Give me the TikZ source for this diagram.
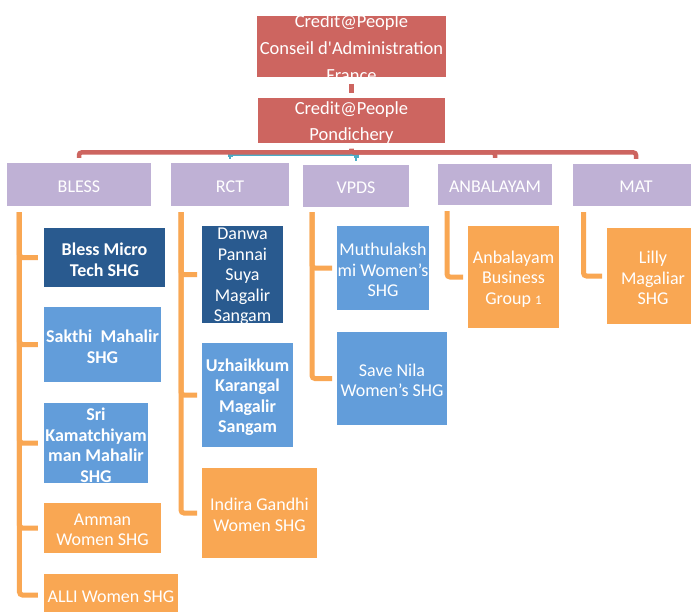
\documentclass[tikz,border=0pt]{standalone}
\usepackage{fontspec}
\setmainfont{Carlito}
\definecolor{cpred}{RGB}{205,101,96}
\definecolor{cppurple}{RGB}{191,177,213}
\definecolor{cpdblue}{RGB}{41,90,143}
\definecolor{cplblue}{RGB}{98,157,218}
\definecolor{cporange}{RGB}{249,167,83}
\definecolor{cpcyan}{RGB}{75,172,198}
\tikzset{
  tbox/.style 2 args={rectangle, inner sep=0pt, outer sep=0pt, draw=none,
    path picture={\node[text=white, align=center, inner sep=0pt, fill=none, draw=none, font=#1, yshift=-2bp]
      at (path picture bounding box.center) {#2};}},
  redconn/.style={draw=cpred, line width=4.5bp, rounded corners=2.5bp},
  cyanconn/.style={draw=cpcyan, line width=1.5bp},
  cyandrop/.style={draw=cpcyan, line width=5bp},
  orconn/.style={draw=cporange, line width=5bp, rounded corners=3bp},
}
\newcommand\fsA{\fontsize{18.5bp}{27bp}\selectfont}
\newcommand\fsB{\fontsize{18.5bp}{26bp}\selectfont}
\newcommand\fsC{\fontsize{18bp}{20.5bp}\selectfont}
\newcommand\fsD{\fontsize{18bp}{20.5bp}\selectfont\bfseries}
\begin{document}
\begin{tikzpicture}[x=1bp,y=-1bp]
\clip (0,0) rectangle (691,612);
\fill[white] (0,0) rectangle (691,612);
% level 0 and 1
\node[tbox={\fsA}{Credit@People\\Conseil d\textquotesingle Administration\\France}, fill=cpred, minimum width=189bp, minimum height=61bp] (top) at (351.5,46.5) {};
\node[tbox={\fsB}{Credit@People\\Pondichery}, fill=cpred, minimum width=187bp, minimum height=45bp] (pond) at (351.5,120.5) {};
% level 2
\node[tbox={\fsC}{BLESS}, fill=cppurple, minimum width=144bp, minimum height=43bp] (bless) at (79,184.5) {};
\node[tbox={\fsC}{RCT}, fill=cppurple, minimum width=118bp, minimum height=43bp] (rct) at (230,184.5) {};
\node[tbox={\fsC}{VPDS}, fill=cppurple, minimum width=106bp, minimum height=42bp] (vpds) at (356,186) {};
\node[tbox={\fsC}{ANBALAYAM}, fill=cppurple, minimum width=114bp, minimum height=41bp] (anb) at (495,184.5) {};
\node[tbox={\fsC}{MAT}, fill=cppurple, minimum width=126bp, minimum height=42bp] (mat) at (636,185) {};
% BLESS children
\node[tbox={\fsD}{Bless Micro\\Tech SHG}, fill=cpdblue, minimum width=121bp, minimum height=59bp] (bm) at (104.5,257.5) {};
\node[tbox={\fsD}{Sakthi~~Mahalir\\SHG}, fill=cplblue, minimum width=117bp, minimum height=75bp] (sak) at (102.5,344.5) {};
\node[tbox={\fsD}{Sri\\Kamatchiyam\\man Mahalir\\SHG}, fill=cplblue, minimum width=104bp, minimum height=80bp] (sri) at (96,443) {};
\node[tbox={\fsC}{Amman\\Women SHG}, fill=cporange, minimum width=117bp, minimum height=50bp] (amm) at (102.5,528) {};
\node[tbox={\fsC}{ALLI Women SHG}, fill=cporange, minimum width=134bp, minimum height=42bp] (alli) at (111,595) {};
% RCT children
\node[tbox={\fsC}{Danwa\\Pannai\\Suya\\Magalir\\Sangam}, fill=cpdblue, minimum width=81bp, minimum height=97bp] (dan) at (242.5,274.5) {};
\node[tbox={\fsD}{Uzhaikkum\\Karangal\\Magalir\\Sangam}, fill=cplblue, minimum width=91bp, minimum height=104bp] (uzh) at (247.5,395) {};
\node[tbox={\fsC}{Indira Gandhi\\Women SHG}, fill=cporange, minimum width=115bp, minimum height=90bp] (ind) at (259.5,513) {};
% VPDS children
\node[tbox={\fsC}{Muthulaksh\\mi Women’s\\SHG}, fill=cplblue, minimum width=92bp, minimum height=84bp] (mut) at (383,268) {};
\node[tbox={\fsC}{Save Nila\\Women’s SHG}, fill=cplblue, minimum width=110bp, minimum height=93bp] (sav) at (392,378.5) {};
% ANBALAYAM child
\node[tbox={\fsC}{Anbalayam\\Business\\Group {\fontsize{13bp}{13bp}\selectfont 1}}, fill=cporange, minimum width=91bp, minimum height=102bp] (anbg) at (513.5,277) {};
% MAT child
\node[tbox={\fsC}{Lilly\\Magaliar\\SHG}, fill=cporange, minimum width=92bp, minimum height=96bp] (lil) at (653,276) {};

% connectors level 0 -> 1
\draw[redconn, shorten <=7bp, shorten >=5bp] (top.south) -- (pond.north);
% cyan connectors (under the red bus)
\draw[cyanconn] ([yshift=-12bp]pond.south) -| ([yshift=4bp]rct.north);
\draw[cyanconn] ([yshift=-12bp]pond.south) -| ([yshift=4bp]vpds.north);
\draw[cyandrop] ([yshift=6bp]rct.north) -- ([yshift=10bp]rct.north);
\draw[cyandrop] ([yshift=7bp]vpds.north) -- ([yshift=11bp]vpds.north);
% red connectors
\draw[redconn] ([yshift=-6bp]pond.south) -- ++(0,3.5) -| ([yshift=5bp]bless.north);
\draw[redconn] ([yshift=-6bp]pond.south) -- ++(0,3.5) -| ([yshift=6bp]anb.north);
\draw[redconn] ([yshift=-6bp]pond.south) -- ++(0,3.5) -| ([yshift=5bp]mat.north);
% orange connectors
\foreach \c in {bm,sak,sri,amm,alli}
  \draw[orconn] ([xshift=12.5bp,yshift=-6bp]bless.south west) |- ([xshift=-6bp]\c.west);
\foreach \c in {dan,uzh,ind}
  \draw[orconn] ([xshift=10bp,yshift=-6bp]rct.south west) |- ([xshift=-5bp]\c.west);
\foreach \c in {mut,sav}
  \draw[orconn] ([xshift=9bp,yshift=-5bp]vpds.south west) |- ([xshift=-5bp]\c.west);
\draw[orconn] ([xshift=9bp,yshift=-6bp]anb.south west) |- ([xshift=-5bp]anbg.west);
\draw[orconn] ([xshift=10.5bp,yshift=-6bp]mat.south west) |- ([xshift=-5bp]lil.west);
\end{tikzpicture}
\end{document}
